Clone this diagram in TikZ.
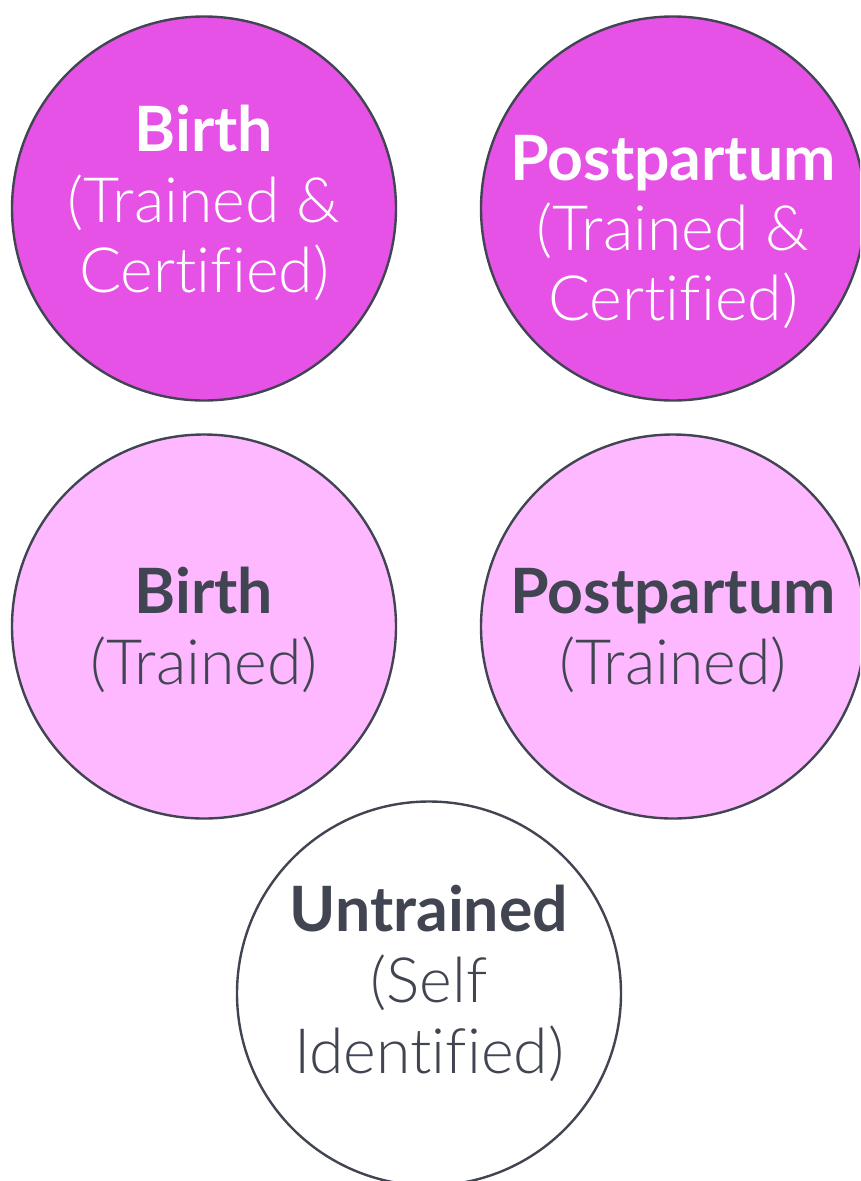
\documentclass[tikz,border=0pt]{standalone}
\usepackage{fontspec}
\setmainfont[Ligatures=NoCommon]{Lato}
\newfontfamily\lightf[Ligatures=NoCommon]{Lato Light}
\definecolor{mag}{HTML}{E552E5}
\definecolor{lpink}{HTML}{FDB8FF}
\definecolor{ink}{HTML}{414552}
\tikzset{
 disc/.style={circle,draw=ink,line width=2.4pt,minimum size=384pt,inner sep=0pt},
 head/.style={font=\fontsize{62.5}{62}\selectfont\bfseries,anchor=base},
 sub/.style={font=\lightf\fontsize{62.5}{62}\selectfont,anchor=base},
}
\begin{document}
\begin{tikzpicture}[x=1pt,y=-1pt]
\useasboundingbox (0,0) rectangle (860,1181);
\clip (0,0) rectangle (860,1181);
\node[disc,fill=mag] (a) at (204,208.5) {};
\node[disc,fill=mag] (b) at (673,208.5) {};
\node[disc,fill=lpink] (c) at (204,626.5) {};
\node[disc,fill=lpink] (d) at (673,626.5) {};
\node[disc,fill=white] (e) at (429,993.5) {};
\node[head,white] (a1) at (204,151.5) {Birth};
\node[sub,white] (a2) at (204,222) {(Trained \&};
\node[sub,white] (a3) at (204,292) {Certified)};
\node[head,white] (b1) at (673,180.5) {Postpartum};
\node[sub,white] (b2) at (673,250) {(Trained \&};
\node[sub,white] (b3) at (673,320) {Certified)};
\node[head,ink] (c1) at (204,613.5) {Birth};
\node[sub,ink] (c2) at (204,684) {(Trained)};
\node[head,ink] (d1) at (673,613.5) {Postpartum};
\node[sub,ink] (d2) at (673,684) {(Trained)};
\node[head,ink] (e1) at (429,931.5) {Untrained};
\node[sub,ink] (e2) at (429,1002) {(Self};
\node[sub,ink] (e3) at (429,1073) {Identified)};
\end{tikzpicture}
\end{document}
